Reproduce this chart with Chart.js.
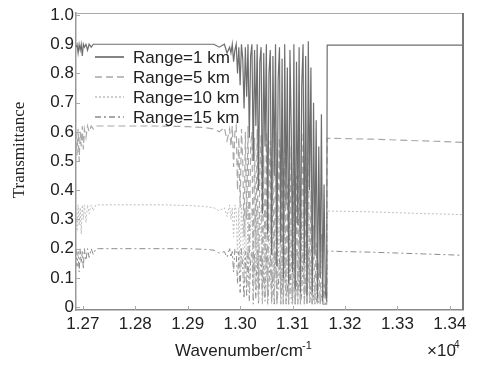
<!DOCTYPE html>
<html>
<head>
<meta charset="utf-8">
<script src="https://cdn.jsdelivr.net/npm/chart.js@4.4.0/dist/chart.umd.min.js"></script>
<style>
  html, body { margin: 0; padding: 0; background: #fff; }
  #wrap { width: 477px; height: 370px; }
</style>
</head>
<body>
<div id="wrap"><canvas id="transChart" width="477" height="370"></canvas></div>
<script>
// wavenumber (x10^4 cm^-1): left edge, absorption band, right side
const wavenumber = [
  1.2687, 1.2689, 1.2691, 1.2693, 1.2695, 1.2697, 1.2699, 1.2701, 1.2703, 1.2706, 1.2709, 1.2712, 1.2716,
  1.2720, 1.2725, 1.2730, 1.2740, 1.2760, 1.2800, 1.2850, 1.2900, 1.2930, 1.2950, 1.2960, 1.2970, 1.2975,
  1.29800, 1.29825, 1.29850, 1.29875, 1.29900, 1.29925, 1.29950, 1.29975, 1.30000, 1.30025,
  1.30050, 1.30075, 1.30100, 1.30125, 1.30150, 1.30175, 1.30200, 1.30225, 1.30250, 1.30275,
  1.30300, 1.30325, 1.30350, 1.30375, 1.30400, 1.30425, 1.30450, 1.30475, 1.30500, 1.30525,
  1.30550, 1.30575, 1.30600, 1.30625, 1.30650, 1.30675, 1.30700, 1.30725, 1.30750, 1.30775,
  1.30800, 1.30825, 1.30850, 1.30875, 1.30900, 1.30925, 1.30950, 1.30975, 1.31000, 1.31025,
  1.31050, 1.31075, 1.31100, 1.31125, 1.31150, 1.31175, 1.31200, 1.31225, 1.31250, 1.31275,
  1.31300, 1.31325, 1.31350, 1.31375, 1.31400, 1.31425, 1.31450, 1.31475, 1.31500, 1.31525,
  1.31550, 1.31575, 1.31600, 1.31625, 1.31650,
  1.3166, 1.3200, 1.3250, 1.3300, 1.3350, 1.3400, 1.3425
];

const range1km = [
  0.89, 0.90, 0.87, 0.90, 0.88, 0.90, 0.86, 0.90, 0.89, 0.90, 0.88, 0.90, 0.89,
  0.90, 0.90, 0.90, 0.90, 0.90, 0.90, 0.90, 0.90, 0.90, 0.90, 0.89, 0.90, 0.87,
  0.89, 0.87, 0.90, 0.84, 0.88, 0.90, 0.80, 0.89, 0.76, 0.90,
  0.85, 0.68, 0.89, 0.72, 0.90, 0.58, 0.86, 0.90, 0.50, 0.88,
  0.62, 0.90, 0.40, 0.84, 0.89, 0.32, 0.87, 0.55, 0.90, 0.25,
  0.80, 0.88, 0.18, 0.86, 0.45, 0.90, 0.14, 0.78, 0.89, 0.22,
  0.85, 0.10, 0.90, 0.35, 0.82, 0.08, 0.88, 0.60, 0.12, 0.90,
  0.06, 0.84, 0.28, 0.89, 0.05, 0.76, 0.90, 0.15, 0.86, 0.04,
  0.91, 0.40, 0.82, 0.05, 0.70, 0.18, 0.64, 0.03, 0.55, 0.10,
  0.66, 0.02, 0.42, 0.05, 0.02,
  0.897, 0.897, 0.897, 0.897, 0.897, 0.897, 0.897
];

const range5km = [
  0.60, 0.52, 0.61, 0.50, 0.60, 0.55, 0.62, 0.54, 0.61, 0.58, 0.62, 0.60, 0.62,
  0.61, 0.62, 0.62, 0.62, 0.62, 0.62, 0.62, 0.618, 0.615, 0.61, 0.60, 0.615, 0.57,
  0.61, 0.55, 0.62, 0.48, 0.60, 0.62, 0.40, 0.58, 0.34, 0.61,
  0.50, 0.24, 0.60, 0.30, 0.62, 0.16, 0.55, 0.60, 0.10, 0.58,
  0.20, 0.61, 0.06, 0.45, 0.59, 0.04, 0.52, 0.15, 0.60, 0.03,
  0.40, 0.57, 0.02, 0.50, 0.10, 0.60, 0.02, 0.35, 0.58, 0.04,
  0.48, 0.01, 0.61, 0.08, 0.42, 0.01, 0.55, 0.20, 0.02, 0.60,
  0.01, 0.45, 0.05, 0.58, 0.01, 0.32, 0.60, 0.02, 0.48, 0.01,
  0.62, 0.06, 0.40, 0.01, 0.28, 0.03, 0.22, 0.01, 0.15, 0.02,
  0.25, 0.01, 0.08, 0.01, 0.01,
  0.578, 0.577, 0.575, 0.572, 0.569, 0.566, 0.564
];

const range10km = [
  0.34, 0.26, 0.35, 0.28, 0.34, 0.25, 0.35, 0.30, 0.35, 0.29, 0.35, 0.32, 0.35,
  0.33, 0.35, 0.35, 0.35, 0.35, 0.35, 0.35, 0.348, 0.345, 0.34, 0.33, 0.34, 0.31,
  0.35, 0.30, 0.34, 0.24, 0.35, 0.33, 0.18, 0.34, 0.12, 0.35,
  0.26, 0.08, 0.34, 0.10, 0.35, 0.05, 0.30, 0.34, 0.03, 0.33,
  0.07, 0.35, 0.02, 0.22, 0.34, 0.01, 0.28, 0.04, 0.35, 0.01,
  0.18, 0.33, 0.01, 0.25, 0.03, 0.34, 0.01, 0.14, 0.32, 0.01,
  0.24, 0.01, 0.35, 0.02, 0.18, 0.01, 0.30, 0.06, 0.01, 0.34,
  0.01, 0.20, 0.01, 0.32, 0.01, 0.12, 0.34, 0.01, 0.22, 0.01,
  0.35, 0.02, 0.16, 0.01, 0.10, 0.01, 0.08, 0.01, 0.05, 0.01,
  0.09, 0.01, 0.02, 0.01, 0.01,
  0.329, 0.328, 0.326, 0.323, 0.320, 0.318, 0.316
];

const range15km = [
  0.20, 0.14, 0.19, 0.12, 0.20, 0.15, 0.19, 0.13, 0.20, 0.16, 0.20, 0.17, 0.20,
  0.18, 0.20, 0.20, 0.20, 0.20, 0.20, 0.20, 0.20, 0.198, 0.195, 0.185, 0.19, 0.17,
  0.20, 0.17, 0.19, 0.12, 0.20, 0.19, 0.08, 0.19, 0.05, 0.20,
  0.13, 0.03, 0.19, 0.04, 0.20, 0.02, 0.16, 0.19, 0.01, 0.18,
  0.03, 0.20, 0.01, 0.10, 0.19, 0.01, 0.14, 0.02, 0.20, 0.01,
  0.08, 0.18, 0.01, 0.12, 0.01, 0.19, 0.01, 0.06, 0.17, 0.01,
  0.11, 0.01, 0.20, 0.01, 0.08, 0.01, 0.15, 0.02, 0.01, 0.19,
  0.01, 0.09, 0.01, 0.17, 0.01, 0.05, 0.19, 0.01, 0.10, 0.01,
  0.20, 0.01, 0.07, 0.01, 0.04, 0.01, 0.03, 0.01, 0.02, 0.01,
  0.04, 0.01, 0.01, 0.01, 0.01,
  0.192, 0.190, 0.188, 0.185, 0.182, 0.179, 0.177
];

const seriesNames = ['Range=1 km', 'Range=5 km', 'Range=10 km', 'Range=15 km'];
const xTickValues = [1.27, 1.28, 1.29, 1.30, 1.31, 1.32, 1.33, 1.34];
const xTickLabels = ['1.27', '1.28', '1.29', '1.30', '1.31', '1.32', '1.33', '1.34'];
const yTickValues = [0, 0.1, 0.2, 0.3, 0.4, 0.5, 0.6, 0.7, 0.8, 0.9, 1.0];
const yTickLabels = ['0', '0.1', '0.2', '0.3', '0.4', '0.5', '0.6', '0.7', '0.8', '0.9', '1.0'];

const sansFont = "'Liberation Sans', Arial, sans-serif";
const serifFont = "'Liberation Serif', 'Times New Roman', serif";

function toPoints(values) {
  return wavenumber.map((x, i) => ({ x: x, y: values[i] }));
}

// frame, inward ticks, legend and axis titles
const decorations = {
  id: 'decorations',
  afterDraw(chart) {
    const ctx = chart.ctx;
    const area = chart.chartArea;
    const xs = chart.scales.x;
    const ys = chart.scales.y;
    ctx.save();

    // top and right frame
    ctx.strokeStyle = '#aaa';
    ctx.lineWidth = 1;
    ctx.beginPath();
    ctx.moveTo(area.left, area.top + 0.5);
    ctx.lineTo(area.right, area.top + 0.5);
    ctx.stroke();
    ctx.strokeStyle = '#777';
    ctx.lineWidth = 2;
    ctx.beginPath();
    ctx.moveTo(area.right, area.top);
    ctx.lineTo(area.right, area.bottom);
    ctx.stroke();

    // small inward ticks
    ctx.strokeStyle = '#aaa';
    ctx.lineWidth = 1;
    xTickValues.forEach(v => {
      const px = Math.round(xs.getPixelForValue(v)) + 0.5;
      ctx.beginPath();
      ctx.moveTo(px, area.bottom);
      ctx.lineTo(px, area.bottom - 4);
      ctx.stroke();
    });
    yTickValues.forEach(v => {
      const py = Math.round(ys.getPixelForValue(v)) + 0.5;
      ctx.beginPath();
      ctx.moveTo(area.left, py);
      ctx.lineTo(area.left + 4, py);
      ctx.stroke();
    });

    // legend inside the plot
    const rowY = [57, 77, 97, 117];
    chart.data.datasets.forEach((ds, i) => {
      ctx.strokeStyle = ds.borderColor;
      ctx.lineWidth = ds.borderWidth + 0.5;
      ctx.setLineDash(ds.borderDash || []);
      ctx.beginPath();
      ctx.moveTo(95, rowY[i]);
      ctx.lineTo(124, rowY[i]);
      ctx.stroke();
      ctx.setLineDash([]);
      ctx.fillStyle = '#222';
      ctx.font = '17px ' + sansFont;
      ctx.textAlign = 'left';
      ctx.textBaseline = 'middle';
      ctx.fillText(ds.label, 133, rowY[i] + 1);
    });

    // axis titles
    ctx.fillStyle = '#222';
    ctx.font = '17px ' + serifFont;
    ctx.textAlign = 'center';
    ctx.textBaseline = 'middle';
    ctx.translate(20, 150);
    ctx.rotate(-Math.PI / 2);
    ctx.fillText('Transmittance', 0, 0);
    ctx.setTransform(1, 0, 0, 1, 0, 0);

    ctx.textAlign = 'left';
    ctx.textBaseline = 'alphabetic';
    ctx.font = '17px ' + sansFont;
    ctx.fillText('Wavenumber/cm', 175, 356);
    ctx.font = '11px ' + sansFont;
    ctx.fillText('-1', 302, 349);
    ctx.font = '17px ' + sansFont;
    ctx.fillText('\u00d710', 427, 356);
    ctx.font = '10px ' + sansFont;
    ctx.fillText('4', 454, 348);

    ctx.restore();
  }
};

function renderChart() {
  const ctx = document.getElementById('transChart').getContext('2d');
  new Chart(ctx, {
    type: 'line',
    data: {
      datasets: [{
        label: seriesNames[0],
        data: toPoints(range1km),
        borderColor: '#6e6e6e',
        borderWidth: 1.2
      }, {
        label: seriesNames[1],
        data: toPoints(range5km),
        borderColor: '#a8a8a8',
        borderWidth: 1.2,
        borderDash: [7, 4]
      }, {
        label: seriesNames[2],
        data: toPoints(range10km),
        borderColor: '#bdbdbd',
        borderWidth: 1,
        borderDash: [2, 2]
      }, {
        label: seriesNames[3],
        data: toPoints(range15km),
        borderColor: '#8c8c8c',
        borderWidth: 1,
        borderDash: [6, 3, 2, 3]
      }]
    },
    options: {
      responsive: false,
      animation: false,
      layout: { padding: { left: 0, right: 14, top: 13, bottom: 0 } },
      elements: { point: { radius: 0 }, line: { tension: 0 } },
      plugins: {
        legend: { display: false },
        tooltip: { enabled: false }
      },
      scales: {
        x: {
          type: 'linear',
          min: 1.2687,
          max: 1.3425,
          afterBuildTicks: scale => { scale.ticks = xTickValues.map(v => ({ value: v })); },
          afterFit: scale => { scale.height = 60; },
          ticks: {
            color: '#222',
            font: { family: sansFont, size: 17 },
            padding: 4,
            maxRotation: 0,
            autoSkip: false,
            callback: (v, i) => xTickLabels[i]
          },
          grid: { display: false, drawTicks: false },
          border: { display: true, color: '#888', width: 1.5 }
        },
        y: {
          min: -0.01,
          max: 1.007,
          afterBuildTicks: scale => { scale.ticks = yTickValues.map(v => ({ value: v })); },
          afterFit: scale => { scale.width = 76; },
          ticks: {
            color: '#222',
            font: { family: sansFont, size: 17 },
            padding: 2,
            autoSkip: false,
            callback: (v, i) => yTickLabels[i]
          },
          grid: { display: false, drawTicks: false },
          border: { display: true, color: '#999', width: 1.5 }
        }
      }
    },
    plugins: [decorations]
  });
}

renderChart();
</script>
</body>
</html>
